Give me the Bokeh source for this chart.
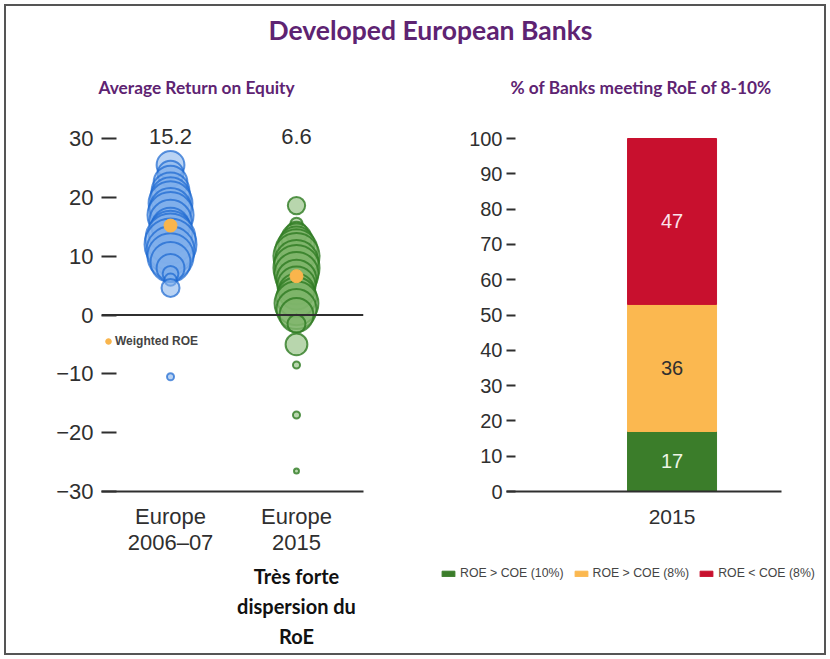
from bokeh.plotting import figure
from bokeh.layouts import column, row
from bokeh.models import (Range1d, FixedTicker, Span, Legend, LegendItem,
                          ColumnDataSource)
from bokeh.embed import file_html
from bokeh.resources import INLINE
from bokeh.core.properties import value

# ---------------- data ----------------
main_title = "Developed European Banks"
left_subtitle = "Average Return on Equity"
right_subtitle = "% of Banks meeting RoE of 8-10%"

period_labels = ["Europe\n2006–07", "Europe\n2015"]
weighted_roe = [15.2, 6.6]
weighted_label = "Weighted ROE"

# individual bank RoE (%) and relative bank size (bubble area)
roe_2006_07 = [25.5, 24, 22.5, 21, 20, 19, 18, 17, 16, 15, 14, 13, 12, 11, 10,
               9, 8, 7, 6, 4.6, -10.5]
assets_2006_07 = [31, 27, 46, 58, 64, 77, 71, 85, 71, 58, 77, 100, 108, 92, 85,
                  64, 31, 10, 6, 13, 2]
roe_2015 = [18.6, 15.5, 14, 13, 12, 11, 10, 9, 8, 7, 6, 5, 4, 3, 2, 1, 0, -1.5,
            -5, -8.5, -17, -26.5]
assets_2015 = [12, 6, 19, 36, 52, 71, 85, 77, 85, 77, 64, 58, 52, 64, 77, 64,
               46, 13, 19, 2, 2, 1]

y_ticks_left = [-30, -20, -10, 0, 10, 20, 30]
note_text = "Très forte\ndispersion du\nRoE"

bar_year = "2015"
bar_segments = ["ROE > COE (10%)", "ROE > COE (8%)", "ROE < COE (8%)"]
bar_shares = [17, 36, 47]
y_ticks_right = [0, 10, 20, 30, 40, 50, 60, 70, 80, 90, 100]

# ---------------- styles ----------------
PURPLE = "#5E2372"
AXIS_COL = "#2f2f2f"
NUM_FONT = "Liberation Sans"
TITLE_FONT = "Lato"
seg_colors = ["#3B7D2A", "#FBB850", "#C8102E"]
seg_text_colors = ["#EEF5E6", "#2f2f2f", "#FBE3EC"]


def minus(v):
    return ("−" + str(abs(v))) if v < 0 else str(v)


def transparent(p):
    p.border_fill_alpha = 0
    p.background_fill_alpha = 0
    p.outline_line_color = None
    p.grid.visible = False


def blank(width, height, **kw):
    p = figure(width=width, height=height, output_backend="svg",
               toolbar_location=None, x_axis_type=None, y_axis_type=None,
               min_border=0, **kw)
    transparent(p)
    return p


def style_title(t, size):
    t.text_font = TITLE_FONT
    t.text_font_size = size
    t.text_font_style = "bold"
    t.text_color = PURPLE
    t.standoff = 0


def style_xaxis(ax, size, standoff):
    ax.axis_line_width = 2
    ax.axis_line_color = AXIS_COL
    ax.major_tick_line_color = None
    ax.minor_tick_line_color = None
    ax.major_tick_out = 0
    ax.minor_tick_out = 0
    ax.major_label_standoff = standoff
    ax.major_label_text_font = NUM_FONT
    ax.major_label_text_font_size = size
    ax.major_label_text_color = AXIS_COL


def style_yaxis(ax, size, tick_len, standoff):
    ax.axis_line_color = None
    ax.major_tick_in = tick_len
    ax.major_tick_out = 0
    ax.minor_tick_out = 0
    ax.major_tick_line_width = 2
    ax.major_tick_line_color = AXIS_COL
    ax.minor_tick_line_color = None
    ax.major_label_standoff = standoff
    ax.major_label_text_font = NUM_FONT
    ax.major_label_text_font_size = size
    ax.major_label_text_color = AXIS_COL


# ---------------- titles ----------------
top = blank(830, 47, min_border_top=45)
top.title.text = main_title
top.title.align = "left"
top.title.offset = 268
style_title(top.title, "26.5px")

sub_left = blank(415, 53, min_border_top=46, min_border_left=98)
sub_left.title.text = left_subtitle
sub_left.title.align = "left"
style_title(sub_left.title, "17.3px")

sub_right = blank(415, 53, min_border_top=50, min_border_left=95)
sub_right.title.text = right_subtitle
sub_right.title.align = "left"
style_title(sub_right.title, "17.3px")

# ---------------- left panel ----------------
x_left = Range1d(-0.548, 1.532)
left = figure(width=415, height=458, output_backend="svg", toolbar_location=None,
              x_range=x_left, y_range=Range1d(-30, 33.06),
              min_border_left=101, min_border_right=52, min_border_top=20,
              min_border_bottom=67)
transparent(left)

yl = left.yaxis[0]
yl.ticker = FixedTicker(ticks=y_ticks_left)
yl.major_label_overrides = {v: minus(v) for v in y_ticks_left}
style_yaxis(yl, "22px", 15, 8)

xl = left.xaxis[0]
xl.ticker = FixedTicker(ticks=[0, 1])
xl.major_label_overrides = {i: lab for i, lab in enumerate(period_labels)}
style_xaxis(xl, "22px", 12)
xl.major_label_text_line_height = 1.06

left.add_layout(Span(location=0, dimension="width", line_color=AXIS_COL, line_width=2))


def diam(a):
    return 5 * a ** 0.5


src_a = ColumnDataSource(dict(x=[0] * len(roe_2006_07), y=roe_2006_07,
                              s=[diam(a) for a in assets_2006_07]))
src_b = ColumnDataSource(dict(x=[1] * len(roe_2015), y=roe_2015,
                              s=[diam(a) for a in assets_2015]))
left.scatter("x", "y", size="s", source=src_a, marker="circle",
             fill_color="#7FAEEB", fill_alpha=0.55,
             line_color="#1A66D0", line_alpha=0.7, line_width=2)
left.scatter("x", "y", size="s", source=src_b, marker="circle",
             fill_color="#7DB56A", fill_alpha=0.55,
             line_color="#2E7A22", line_alpha=0.8, line_width=2)

r_w = left.scatter(x=[0, 1], y=weighted_roe, size=13, marker="circle",
                   fill_color="#F9B54C", line_color="#F9B54C")

left.text(x=[0, 1], y=[30.3, 30.3], text=[f"{v:.1f}" for v in weighted_roe],
          text_align="center", text_baseline="middle",
          text_font=value(NUM_FONT), text_font_size="22px", text_color=AXIS_COL)

leg_w = Legend(items=[LegendItem(label=weighted_label, renderers=[r_w])],
               location=(0, 143), padding=0, margin=0, spacing=0,
               glyph_width=14, glyph_height=14, label_height=14,
               label_standoff=0, label_text_font=NUM_FONT,
               label_text_font_size="12px", label_text_font_style="bold",
               label_text_color="#444444", background_fill_alpha=0,
               border_line_color=None)
left.add_layout(leg_w)

# note under the left panel (same x scale as the bubble panel)
note = blank(415, 101, x_range=x_left, y_range=Range1d(0, 101),
             min_border_left=101, min_border_right=52)
note.text(x=[1], y=[96], text=[note_text], text_align="center",
          text_baseline="top", text_font=value(TITLE_FONT),
          text_font_size="20px", text_font_style="bold",
          text_line_height=1.25, text_color="#111111")

# ---------------- right panel ----------------
right = figure(width=415, height=458, output_backend="svg", toolbar_location=None,
               x_range=Range1d(-1.86, 1.23), y_range=Range1d(0, 105.1),
               min_border_left=91, min_border_right=49, min_border_top=20,
               min_border_bottom=67)
transparent(right)

yr = right.yaxis[0]
yr.ticker = FixedTicker(ticks=y_ticks_right)
style_yaxis(yr, "20px", 9, 4)

xr = right.xaxis[0]
xr.ticker = FixedTicker(ticks=[0])
xr.major_label_overrides = {0: bar_year}
style_xaxis(xr, "21px", 18)

bottoms, tops = [], []
acc = 0
for v in bar_shares:
    bottoms.append(acc)
    acc += v
    tops.append(acc)

for i, seg in enumerate(bar_segments):
    right.vbar(x=[0], bottom=[bottoms[i]], top=[tops[i]], width=1,
               fill_color=seg_colors[i], line_color=seg_colors[i])

right.text(x=[0] * len(bar_shares), y=[(b + t) / 2 for b, t in zip(bottoms, tops)],
           text=[str(v) for v in bar_shares], text_align="center",
           text_baseline="middle", text_font=value(NUM_FONT),
           text_font_size="20px", text_color=seg_text_colors)

# legend strip under the bar chart (hidden copies of the segments as swatches)
key = blank(415, 101)
items = []
for i, seg in enumerate(bar_segments):
    sw = key.vbar(x=[0], bottom=[bottoms[i]], top=[tops[i]], width=1,
                  fill_color=seg_colors[i], line_color=seg_colors[i],
                  visible=False)
    items.append(LegendItem(label=seg, renderers=[sw]))

leg_b = Legend(items=items, location=(25, 79), orientation="horizontal",
               padding=0, margin=0, spacing=9, glyph_width=16, glyph_height=7,
               label_height=14, label_standoff=4, label_text_font=NUM_FONT,
               label_text_font_size="12.3px", label_text_color="#444444",
               background_fill_alpha=0, border_line_color=None)
key.add_layout(leg_b)

layout = column(top, row(sub_left, sub_right), row(left, right), row(note, key),
                styles={"background-color": "#ffffff",
                        "box-shadow": "inset 0 0 0 4px #ffffff, inset 0 0 0 6px #555555"})

open("out.html", "w").write(file_html(layout, INLINE))
